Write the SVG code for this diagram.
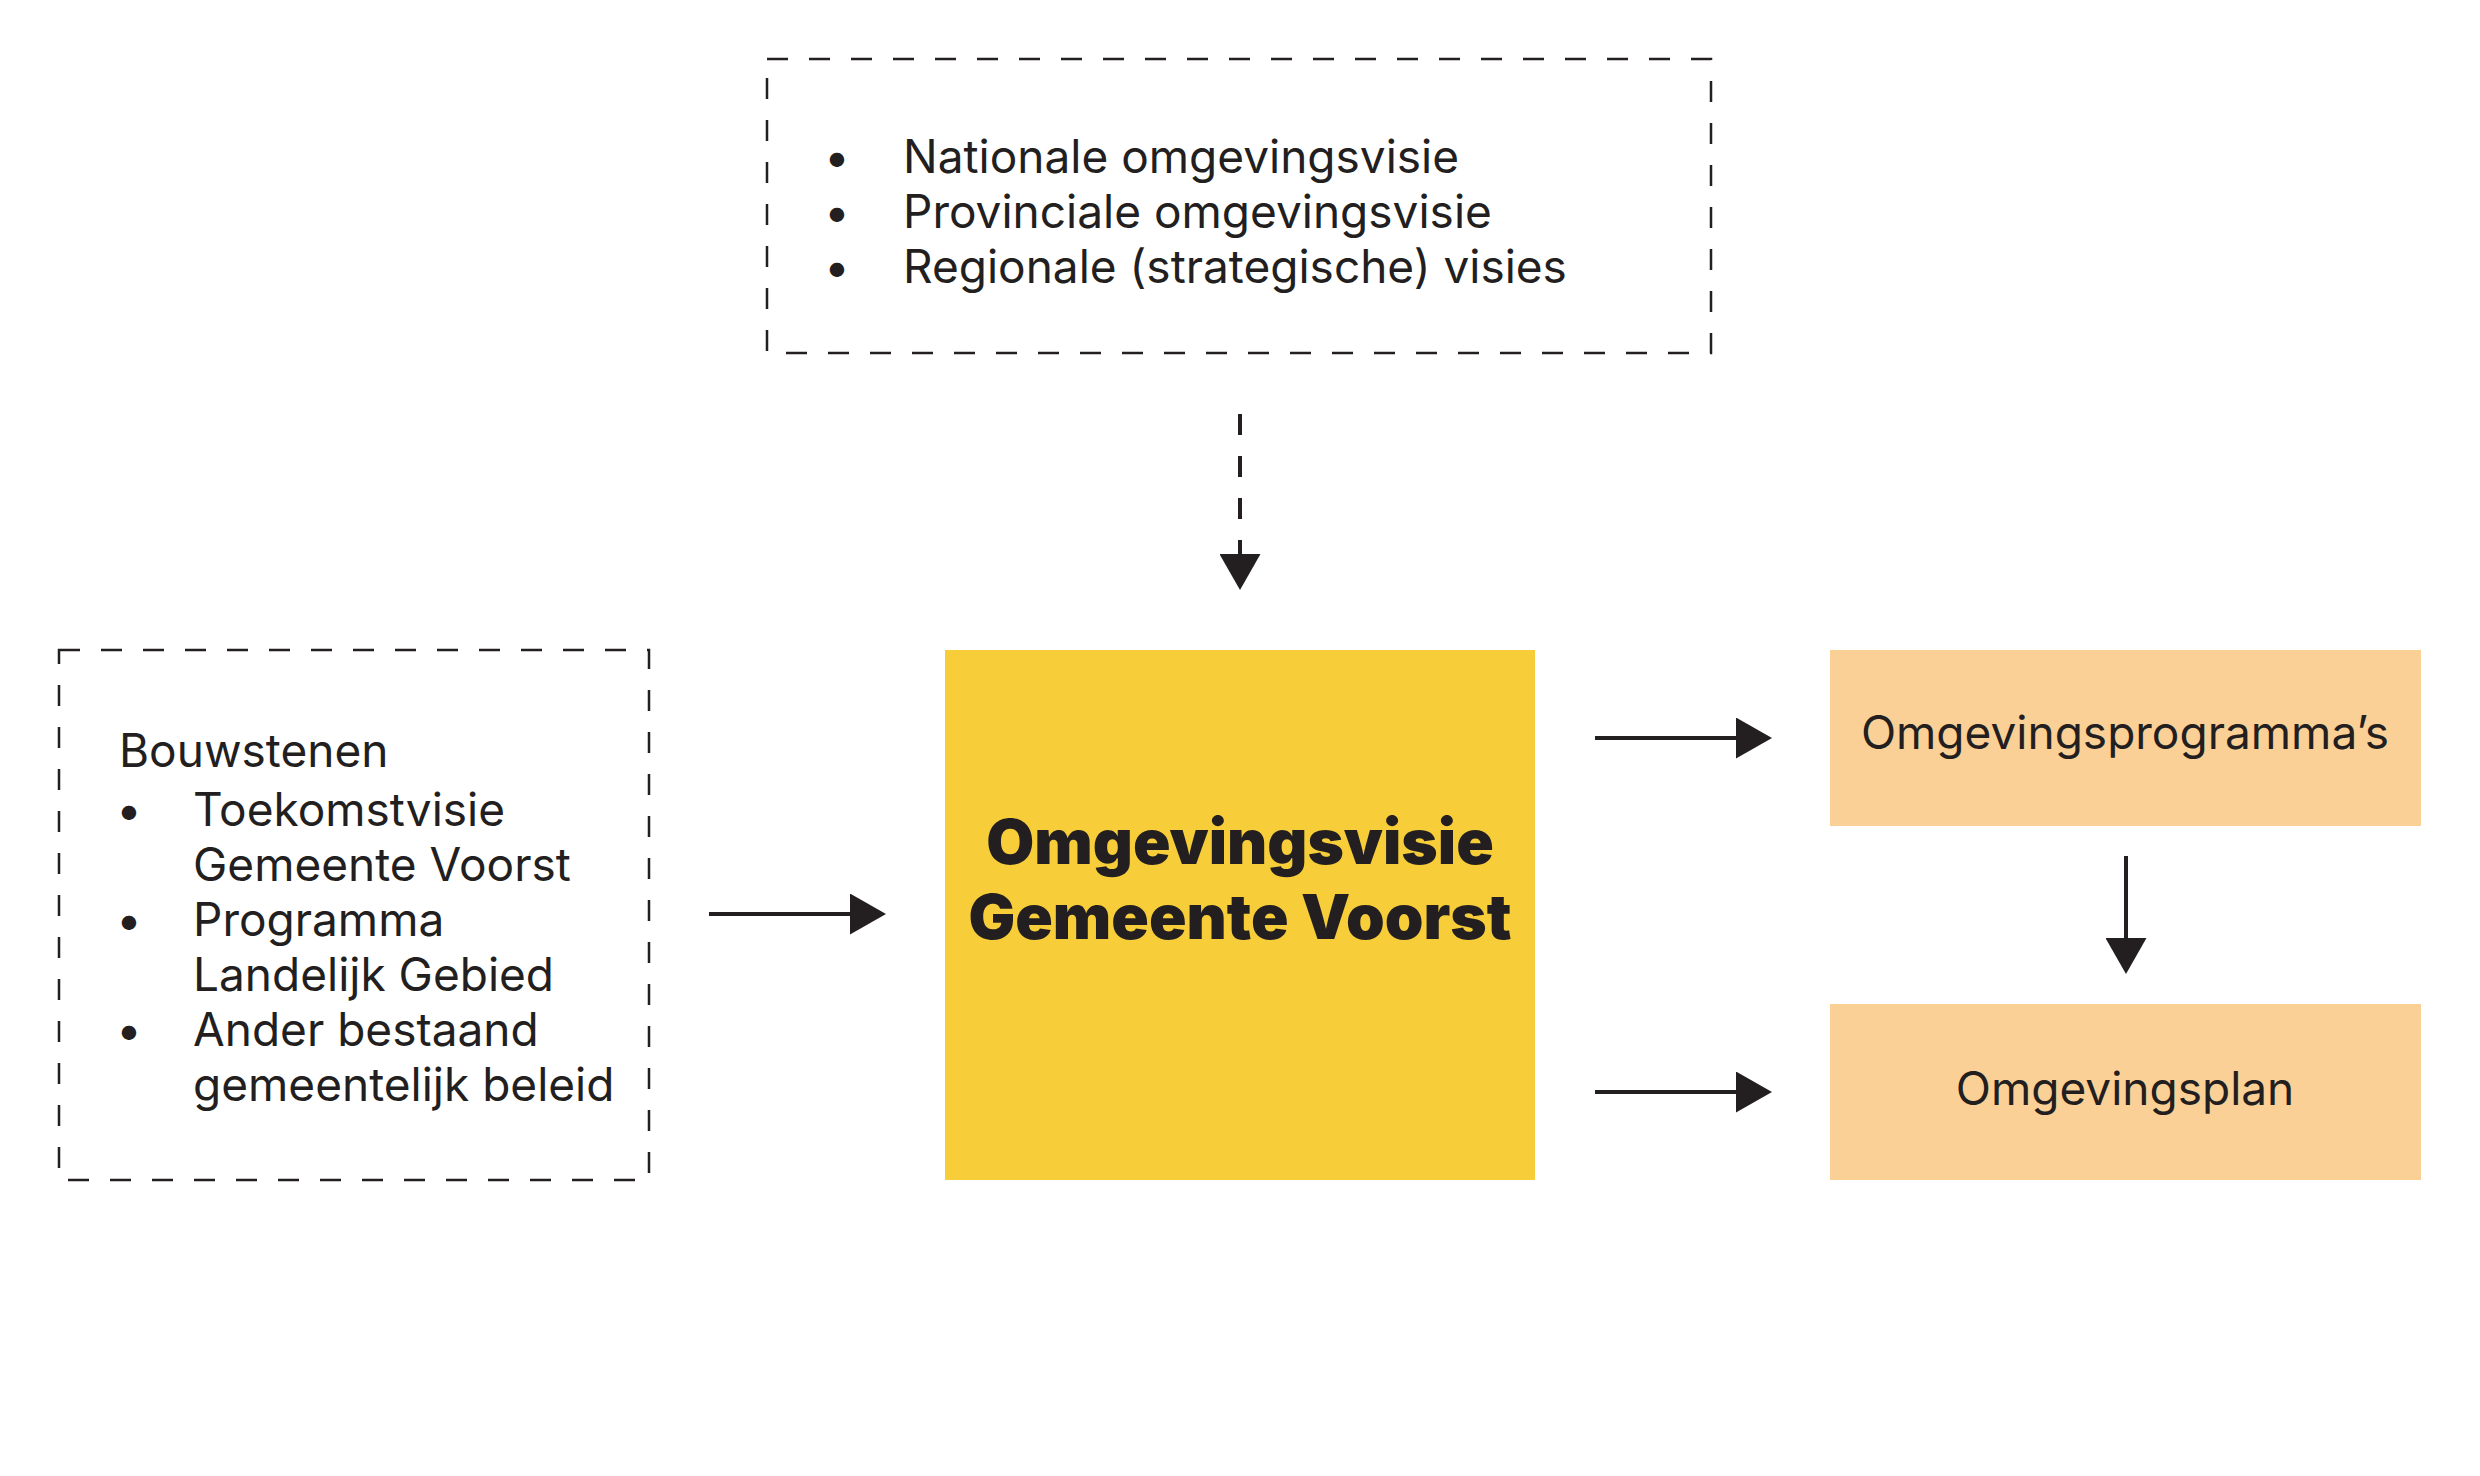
<svg xmlns="http://www.w3.org/2000/svg" width="2480" height="1476" viewBox="0 0 2480 1476">
  <style>
    .t { font-family: Inter, "Noto Sans", "Liberation Sans", sans-serif; font-size: 46px; fill: #231F20; }
    .b { font-family: Inter, "Noto Sans", "Liberation Sans", sans-serif; font-size: 62px; font-weight: 900; fill: #231F20; }
    .dash { fill: none; stroke: #231F20; stroke-width: 2.5; stroke-dasharray: 21 21; }
    .conn { fill: none; stroke: #231F20; stroke-width: 4; }
  </style>
  <defs>
    <marker id="head" viewBox="0 0 36 41" refX="0" refY="20.5" markerWidth="36" markerHeight="41" markerUnits="userSpaceOnUse" orient="auto">
      <path d="M0,0 L36,20.5 L0,41 Z" fill="#231F20"/>
    </marker>
  </defs>
  <rect width="2480" height="1476" fill="#FFFFFF"/>

  <g id="hogere-visies">
    <rect class="dash" x="767" y="59" width="944" height="294"/>
    <text class="t" x="837" y="173" text-anchor="middle">•</text>
    <text class="t" x="837" y="228" text-anchor="middle">•</text>
    <text class="t" x="837" y="283" text-anchor="middle">•</text>
    <text class="t" x="903" y="173">Nationale omgevingsvisie</text>
    <text class="t" x="903" y="228">Provinciale omgevingsvisie</text>
    <text class="t" x="903" y="283">Regionale (strategische) visies</text>
  </g>

  <g id="bouwstenen">
    <rect class="dash" x="59" y="650" width="590" height="530"/>
    <text class="t" x="119" y="767">Bouwstenen</text>
    <text class="t" x="129" y="826" text-anchor="middle">•</text>
    <text class="t" x="129" y="936" text-anchor="middle">•</text>
    <text class="t" x="129" y="1046" text-anchor="middle">•</text>
    <text class="t" x="193" y="826">Toekomstvisie</text>
    <text class="t" x="193" y="881">Gemeente Voorst</text>
    <text class="t" x="193" y="936">Programma</text>
    <text class="t" x="193" y="991">Landelijk Gebied</text>
    <text class="t" x="193" y="1046">Ander bestaand</text>
    <text class="t" x="193" y="1101">gemeentelijk beleid</text>
  </g>

  <g id="omgevingsvisie">
    <rect x="945" y="650" width="590" height="530" fill="#F7CE3A"/>
    <text class="b" x="1240" y="864" text-anchor="middle">Omgevingsvisie</text>
    <text class="b" x="1240" y="939" text-anchor="middle">Gemeente Voorst</text>
  </g>

  <g id="omgevingsprogrammas">
    <rect x="1830" y="650" width="591" height="176" fill="#FBD096"/>
    <text class="t" x="2125" y="749" text-anchor="middle">Omgevingsprogramma’s</text>
  </g>

  <g id="omgevingsplan">
    <rect x="1830" y="1004" width="591" height="176" fill="#FBD096"/>
    <text class="t" x="2125" y="1105" text-anchor="middle">Omgevingsplan</text>
  </g>

  <g id="connectors">
    <line class="conn" x1="1240" y1="414" x2="1240" y2="554" stroke-dasharray="21 21" marker-end="url(#head)"/>
    <line class="conn" x1="709" y1="914" x2="850" y2="914" marker-end="url(#head)"/>
    <line class="conn" x1="1595" y1="738" x2="1736" y2="738" marker-end="url(#head)"/>
    <line class="conn" x1="1595" y1="1092" x2="1736" y2="1092" marker-end="url(#head)"/>
    <line class="conn" x1="2126" y1="856" x2="2126" y2="938" marker-end="url(#head)"/>
  </g>
</svg>
